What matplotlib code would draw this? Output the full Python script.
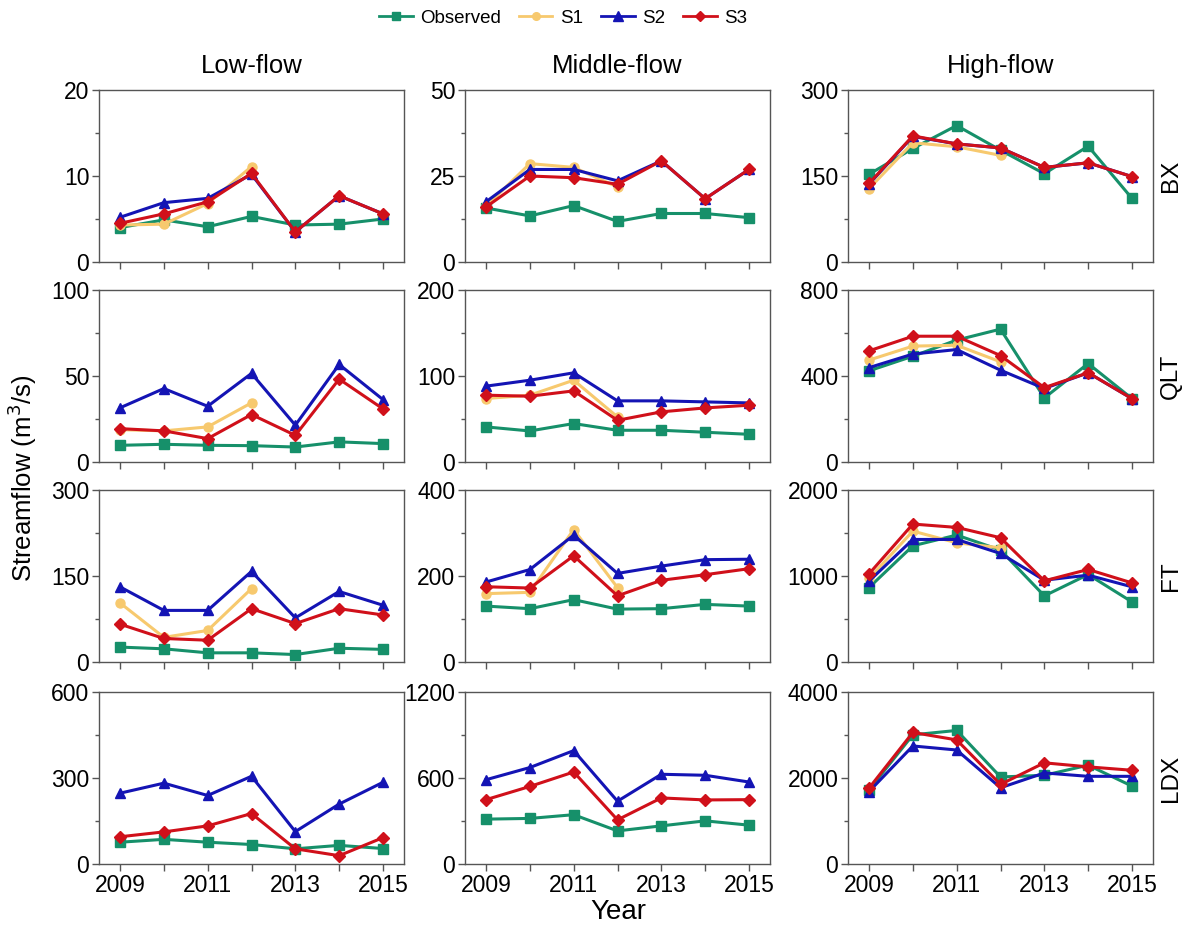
import numpy as np
import matplotlib
matplotlib.use("Agg")
import matplotlib.pyplot as plt
from matplotlib.lines import Line2D

plt.rcParams['font.family'] = ['Liberation Sans', 'DejaVu Sans']

years = [2009, 2010, 2011, 2012, 2013, 2014, 2015]
stations = ["BX", "QLT", "FT", "LDX"]
flows = ["Low-flow", "Middle-flow", "High-flow"]
ymax = {("BX", 0): 20, ("BX", 1): 50, ("BX", 2): 300,
        ("QLT", 0): 100, ("QLT", 1): 200, ("QLT", 2): 800,
        ("FT", 0): 300, ("FT", 1): 400, ("FT", 2): 2000,
        ("LDX", 0): 600, ("LDX", 1): 1200, ("LDX", 2): 4000}
nan = np.nan

# ---- BX ----
bx_low_obs = [4.0, 4.9, 4.1, 5.3, 4.3, 4.4, 5.0]
bx_low_s1 = [4.3, 4.4, 6.8, 11.1, nan, nan, nan]
bx_low_s2 = [5.2, 6.9, 7.4, 10.2, 3.5, 7.7, 5.6]
bx_low_s3 = [4.5, 5.6, 7.0, 10.3, 3.5, 7.7, 5.6]

bx_mid_obs = [15.7, 13.4, 16.4, 11.8, 14.1, 14.1, 12.9]
bx_mid_s1 = [16.2, 28.6, 27.5, 21.8, nan, nan, nan]
bx_mid_s2 = [17.5, 26.9, 26.9, 23.6, 29.4, 18.4, 26.9]
bx_mid_s3 = [16.0, 25.0, 24.5, 22.6, 29.4, 18.4, 26.9]

bx_high_obs = [153, 198, 238, 195, 154, 202, 111]
bx_high_s1 = [128, 208, 201, 186, nan, nan, nan]
bx_high_s2 = [136, 219, 206, 199, 165, 173, 149]
bx_high_s3 = [137, 220, 206, 199, 165, 173, 149]

# ---- QLT ----
qlt_low_obs = [9.7, 10.3, 9.7, 9.5, 8.7, 11.7, 10.7]
qlt_low_s1 = [18.8, 18.1, 20.4, 34.4, nan, nan, nan]
qlt_low_s2 = [31.5, 42.7, 32.4, 51.5, 21.4, 56.7, 36.3]
qlt_low_s3 = [19.4, 18.1, 13.6, 27.6, 15.5, 48.2, 30.9]

qlt_mid_obs = [40.8, 36.1, 44.7, 36.9, 36.9, 34.6, 32.2]
qlt_mid_s1 = [73.8, 77.7, 95.1, 52.4, nan, nan, nan]
qlt_mid_s2 = [88.2, 95.1, 103.7, 71.1, 71.1, 69.9, 68.7]
qlt_mid_s3 = [77.7, 76.5, 82.7, 48.5, 58.3, 62.9, 66.0]

qlt_high_obs = [424, 492, 567, 618, 298, 458, 295]
qlt_high_s1 = [474, 539, 543, 466, nan, nan, nan]
qlt_high_s2 = [439, 502, 523, 427, 342, 415, 295]
qlt_high_s3 = [517, 585, 585, 495, 346, 415, 295]

# ---- FT ----
ft_low_obs = [26, 23, 16, 16, 13, 24, 22]
ft_low_s1 = [103, 43, 55, 128, nan, nan, nan]
ft_low_s2 = [131, 90, 90, 158, 77, 123, 99]
ft_low_s3 = [66, 41, 38, 93, 67, 93, 82]

ft_mid_obs = [130, 124, 145, 123, 124, 134, 130]
ft_mid_s1 = [159, 162, 308, 173, nan, nan, nan]
ft_mid_s2 = [186, 215, 295, 206, 223, 238, 239]
ft_mid_s3 = [175, 172, 247, 154, 190, 203, 217]

ft_high_obs = [866, 1351, 1476, 1301, 769, 1017, 699]
ft_high_s1 = [971, 1522, 1386, 1328, nan, nan, nan]
ft_high_s2 = [940, 1425, 1425, 1262, 951, 1010, 874]
ft_high_s3 = [1025, 1604, 1565, 1445, 944, 1076, 920]

# ---- LDX ----
ldx_low_obs = [76, 86, 76, 68, 53, 65, 54]
ldx_low_s1 = [nan] * 7
ldx_low_s2 = [247, 282, 239, 306, 113, 209, 285]
ldx_low_s3 = [95, 112, 133, 176, 53, 29, 92]

ldx_mid_obs = [313, 318, 344, 231, 266, 301, 271]
ldx_mid_s1 = [nan] * 7
ldx_mid_s2 = [588, 673, 791, 438, 626, 619, 572]
ldx_mid_s3 = [449, 541, 642, 308, 461, 447, 449]

ldx_high_obs = [1725, 3004, 3106, 2024, 2063, 2298, 1812]
ldx_high_s1 = [nan] * 7
ldx_high_s2 = [1686, 2745, 2651, 1773, 2118, 2039, 2039]
ldx_high_s3 = [1765, 3059, 2886, 1851, 2353, 2259, 2180]

data = {
    "BX": [(bx_low_obs, bx_low_s1, bx_low_s2, bx_low_s3),
           (bx_mid_obs, bx_mid_s1, bx_mid_s2, bx_mid_s3),
           (bx_high_obs, bx_high_s1, bx_high_s2, bx_high_s3)],
    "QLT": [(qlt_low_obs, qlt_low_s1, qlt_low_s2, qlt_low_s3),
            (qlt_mid_obs, qlt_mid_s1, qlt_mid_s2, qlt_mid_s3),
            (qlt_high_obs, qlt_high_s1, qlt_high_s2, qlt_high_s3)],
    "FT": [(ft_low_obs, ft_low_s1, ft_low_s2, ft_low_s3),
           (ft_mid_obs, ft_mid_s1, ft_mid_s2, ft_mid_s3),
           (ft_high_obs, ft_high_s1, ft_high_s2, ft_high_s3)],
    "LDX": [(ldx_low_obs, ldx_low_s1, ldx_low_s2, ldx_low_s3),
            (ldx_mid_obs, ldx_mid_s1, ldx_mid_s2, ldx_mid_s3),
            (ldx_high_obs, ldx_high_s1, ldx_high_s2, ldx_high_s3)],
}

series_names = ["Observed", "S1", "S2", "S3"]
colors = ["#16906a", "#f7c96e", "#1414b4", "#d0101a"]
markers = ["s", "o", "^", "D"]
msizes = [6.5, 6.5, 7.5, 6.5]

W, H = 1187, 934
fig = plt.figure(figsize=(W / 100, H / 100), dpi=100)

col_left = [99, 465, 848]
col_w = 305
row_top = [90, 290, 490, 692]
row_h = 172
tick_fs = 16.5
spine_col = "#555555"

for r, st in enumerate(stations):
    for c in range(3):
        ax = fig.add_axes([col_left[c] / W, 1 - (row_top[r] + row_h) / H,
                           col_w / W, row_h / H])
        vals = data[st][c]
        for i in range(4):
            ax.plot(years, vals[i], color=colors[i], marker=markers[i],
                    markersize=msizes[i], linewidth=2.2, zorder=2 + i,
                    markeredgecolor=colors[i])
        ym = ymax[(st, c)]
        ax.set_ylim(0, ym)
        ax.set_yticks([0, ym / 2, ym])
        ax.set_yticklabels([f"{v:g}" for v in [0, ym / 2, ym]])
        ax.set_yticks([ym / 4, 3 * ym / 4], minor=True)
        ax.set_xlim(2008.52, 2015.48)
        ax.set_xticks(years)
        if r == 3:
            ax.set_xticklabels(["2009", "", "2011", "", "2013", "", "2015"])
        else:
            ax.set_xticklabels([])
        ax.tick_params(axis="both", which="major", direction="out", length=5,
                       width=1, color=spine_col, labelsize=tick_fs, pad=2)
        ax.tick_params(axis="y", which="minor", direction="out", length=3,
                       width=1, color=spine_col)
        for sp in ax.spines.values():
            sp.set_color(spine_col)
            sp.set_linewidth(1.0)
        if r == 0:
            ax.set_title(flows[c], fontsize=18.5, pad=12)
        if c == 2:
            ax.text(1.022, 0.5, st, transform=ax.transAxes, rotation=90,
                    ha="left", va="center", fontsize=17.5)

fig.text(22 / W, 1 - 478 / H, "Streamflow (m$^3$/s)", rotation=90,
         ha="center", va="center", fontsize=18.5)
fig.text(618 / W, 1 - 912 / H, "Year", ha="center", va="center", fontsize=20)

handles = [Line2D([0], [0], color=colors[i], marker=markers[i],
                  markersize=msizes[i] - 1, linewidth=2.0,
                  markeredgecolor=colors[i]) for i in range(4)]
fig.legend(handles, series_names, loc="center", ncol=4, frameon=False,
           bbox_to_anchor=(563 / W, 1 - 18 / H), fontsize=13.5,
           handlelength=1.8, columnspacing=0.95, handletextpad=0.4)

fig.savefig("out.png", dpi=100)
